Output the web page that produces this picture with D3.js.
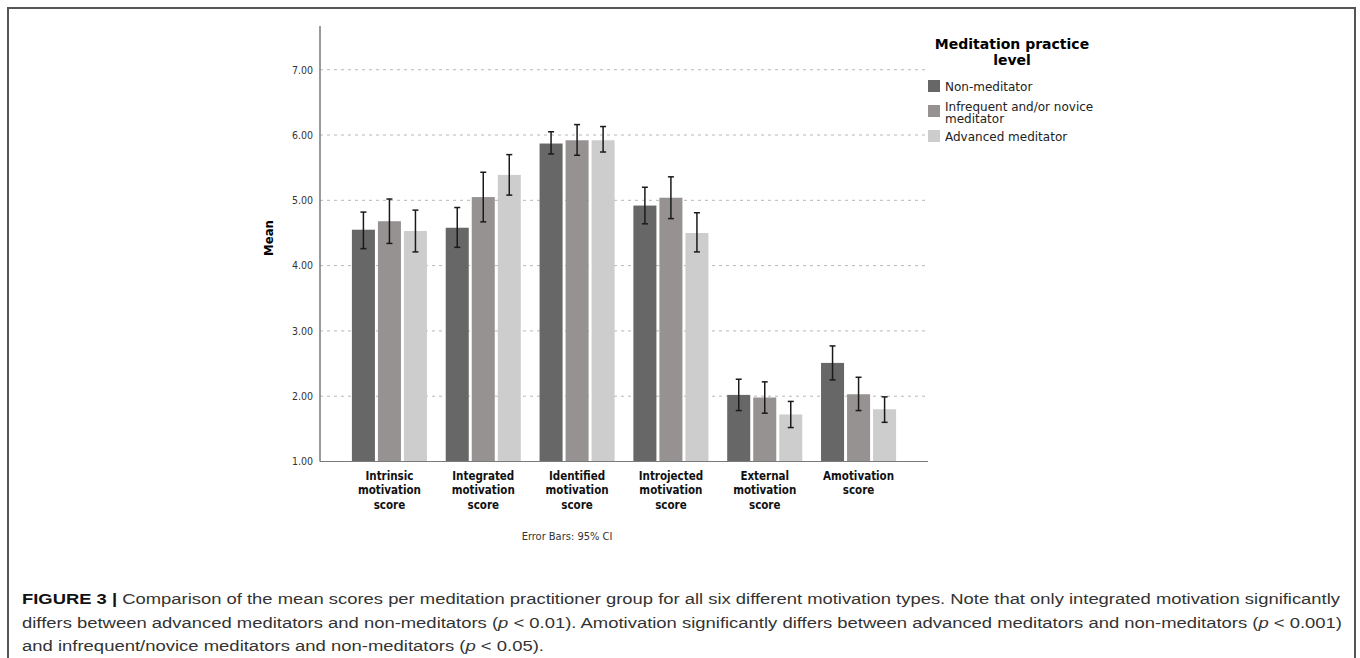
<!DOCTYPE html>
<html>
<head>
<meta charset="utf-8">
<script src="https://cdn.jsdelivr.net/npm/d3@7"></script>
<style>
  body { margin: 0; background: #fff; }
  svg { display: block; }
</style>
</head>
<body>
<div id="chart"></div>
<script>
var categories = [
    ["Intrinsic", "motivation", "score"],
    ["Integrated", "motivation", "score"],
    ["Identified", "motivation", "score"],
    ["Introjected", "motivation", "score"],
    ["External", "motivation", "score"],
    ["Amotivation", "score"]
];
var groups = ["Non-meditator", "Infrequent and/or novice meditator", "Advanced meditator"];
var groupColors = ["#676767", "#979292", "#cdcdcd"];

// mean, lower CI, upper CI per group
var nonMeditator = [4.55, 4.58, 5.87, 4.92, 2.02, 2.51];
var nonMeditatorLow = [4.26, 4.28, 5.71, 4.64, 1.78, 2.25];
var nonMeditatorHigh = [4.82, 4.89, 6.05, 5.20, 2.26, 2.77];

var infrequent = [4.68, 5.05, 5.92, 5.04, 1.98, 2.03];
var infrequentLow = [4.34, 4.67, 5.69, 4.72, 1.74, 1.78];
var infrequentHigh = [5.02, 5.43, 6.16, 5.36, 2.22, 2.29];

var advanced = [4.53, 5.39, 5.92, 4.50, 1.72, 1.80];
var advancedLow = [4.21, 5.08, 5.74, 4.21, 1.52, 1.60];
var advancedHigh = [4.85, 5.70, 6.13, 4.81, 1.92, 1.99];

var yTicks = [1, 2, 3, 4, 5, 6, 7];

var series = [
    {name: groups[0], mean: nonMeditator, lo: nonMeditatorLow, hi: nonMeditatorHigh},
    {name: groups[1], mean: infrequent, lo: infrequentLow, hi: infrequentHigh},
    {name: groups[2], mean: advanced, lo: advancedLow, hi: advancedHigh}
];

var width = 1360, height = 658;
var plotLeft = 320, plotRight = 928, plotTop = 26, plotBottom = 461.5;

var svg = d3.select("#chart").append("svg")
    .attr("width", width)
    .attr("height", height);

// frame
svg.append("rect")
    .attr("x", 8).attr("y", 8)
    .attr("width", 1347).attr("height", 700)
    .attr("fill", "none")
    .attr("stroke", "#555")
    .attr("stroke-width", 2);

var x = d3.scaleBand()
    .domain(d3.range(categories.length))
    .range([plotLeft, plotRight])
    .paddingInner(0.2)
    .paddingOuter(0.34);

var xInner = d3.scaleBand()
    .domain(d3.range(groups.length))
    .range([0, x.bandwidth()])
    .paddingInner(0.115);

var y = d3.scaleLinear()
    .domain([1, 7.67])
    .range([plotBottom, plotTop]);

var color = d3.scaleOrdinal().domain(d3.range(groups.length)).range(groupColors);

// grid
svg.append("g").selectAll("line")
    .data(yTicks.slice(1))
    .enter().append("line")
    .attr("x1", plotLeft).attr("x2", plotRight)
    .attr("y1", function(d) { return y(d); })
    .attr("y2", function(d) { return y(d); })
    .attr("stroke", "#b8b8b8")
    .attr("stroke-width", 1)
    .attr("stroke-dasharray", "3,4");

// y axis
var yAxis = svg.append("g")
    .attr("transform", "translate(" + plotLeft + ",0)")
    .call(d3.axisLeft(y).tickValues(yTicks).tickFormat(d3.format(".2f")).tickSize(0).tickPadding(7));
yAxis.select(".domain").remove();
yAxis.selectAll("text")
    .attr("font-family", "DejaVu Sans Condensed, DejaVu Sans")
    .attr("font-size", "10.5px")
    .attr("fill", "#333");

svg.append("text")
    .attr("transform", "translate(273," + 238 + ") rotate(-90)")
    .attr("text-anchor", "middle")
    .attr("font-family", "DejaVu Sans Condensed, DejaVu Sans")
    .attr("font-weight", "bold")
    .attr("font-size", "13px")
    .text("Mean");

// bars
var bars = [];
series.forEach(function(s, si) {
    s.mean.forEach(function(v, ci) {
        bars.push({c: ci, s: si, v: v, lo: s.lo[ci], hi: s.hi[ci]});
    });
});

svg.append("g").selectAll("rect")
    .data(bars)
    .enter().append("rect")
    .attr("x", function(d) { return x(d.c) + xInner(d.s); })
    .attr("y", function(d) { return y(d.v); })
    .attr("width", xInner.bandwidth())
    .attr("height", function(d) { return y(1) - y(d.v); })
    .attr("fill", function(d) { return color(d.s); });

// error bars
var eb = svg.append("g").selectAll("g")
    .data(bars)
    .enter().append("g")
    .attr("stroke", "#1a1a1a")
    .attr("stroke-width", 1.5);
eb.append("line")
    .attr("x1", function(d) { return x(d.c) + xInner(d.s) + xInner.bandwidth() / 2; })
    .attr("x2", function(d) { return x(d.c) + xInner(d.s) + xInner.bandwidth() / 2; })
    .attr("y1", function(d) { return y(d.lo); })
    .attr("y2", function(d) { return y(d.hi); });
eb.selectAll(".cap")
    .data(function(d) { return [d.lo, d.hi].map(function(v) { return {c: d.c, s: d.s, v: v}; }); })
    .enter().append("line")
    .attr("class", "cap")
    .attr("x1", function(d) { return x(d.c) + xInner(d.s) + xInner.bandwidth() / 2 - 3; })
    .attr("x2", function(d) { return x(d.c) + xInner(d.s) + xInner.bandwidth() / 2 + 3; })
    .attr("y1", function(d) { return y(d.v); })
    .attr("y2", function(d) { return y(d.v); });

// axis lines
svg.append("line")
    .attr("x1", plotLeft).attr("x2", plotLeft)
    .attr("y1", plotTop).attr("y2", plotBottom)
    .attr("stroke", "#7a7a7a").attr("stroke-width", 1.5);
svg.append("line")
    .attr("x1", plotLeft).attr("x2", plotRight)
    .attr("y1", plotBottom).attr("y2", plotBottom)
    .attr("stroke", "#7a7a7a").attr("stroke-width", 1.2);

// category labels
var catLabels = svg.append("g").selectAll("text")
    .data(categories)
    .enter().append("text")
    .attr("text-anchor", "middle")
    .attr("font-family", "DejaVu Sans Condensed, DejaVu Sans")
    .attr("font-weight", "bold")
    .attr("font-size", "11.5px")
    .attr("fill", "#111");
catLabels.selectAll("tspan")
    .data(function(d, i) { return d.map(function(t) { return {t: t, i: i}; }); })
    .enter().append("tspan")
    .attr("x", function(d) { return x(d.i) + x.bandwidth() / 2; })
    .attr("y", function(d, j) { return 480 + j * 14.3; })
    .text(function(d) { return d.t; });

svg.append("text")
    .attr("x", 567).attr("y", 540)
    .attr("text-anchor", "middle")
    .attr("font-family", "DejaVu Sans Condensed, DejaVu Sans")
    .attr("font-size", "11px")
    .attr("fill", "#333")
    .text("Error Bars: 95% CI");

// legend
svg.append("clipPath").attr("id", "legclip")
    .append("rect").attr("x", 900).attr("y", 20).attr("width", 193).attr("height", 150);

var legend = svg.append("g").attr("clip-path", "url(#legclip)");
legend.append("text")
    .attr("text-anchor", "middle")
    .attr("font-family", "DejaVu Sans")
    .attr("font-weight", "bold")
    .attr("font-size", "14px")
    .selectAll("tspan")
    .data(["Meditation practice", "level"])
    .enter().append("tspan")
    .attr("x", 1012)
    .attr("y", function(d, i) { return 49 + i * 16; })
    .text(function(d) { return d; });

var legendRows = [
    {lines: ["Non-meditator"], y: 80},
    {lines: ["Infrequent and/or novice", "meditator"], y: 105},
    {lines: ["Advanced meditator"], y: 130}
];
var items = legend.selectAll(".item")
    .data(legendRows)
    .enter().append("g")
    .attr("class", "item");
items.append("rect")
    .attr("x", 928)
    .attr("y", function(d) { return d.y; })
    .attr("width", 12).attr("height", 12)
    .attr("fill", function(d, i) { return color(i); });
items.append("text")
    .attr("font-family", "DejaVu Sans")
    .attr("font-size", "12px")
    .attr("fill", "#222")
    .selectAll("tspan")
    .data(function(d) {
        var off = d.lines.length > 1 ? 5.5 : 11;
        return d.lines.map(function(t, j) { return {t: t, yy: d.y + off + j * 12}; });
    })
    .enter().append("tspan")
    .attr("x", 945)
    .attr("y", function(d) { return d.yy; })
    .text(function(d) { return d.t; });

// caption
var caption = [
    [{t: "FIGURE 3 |", b: true}, {t: " Comparison of the mean scores per meditation practitioner group for all six different motivation types. Note that only integrated motivation significantly"}],
    [{t: "differs between advanced meditators and non-meditators ("}, {t: "p", i: true}, {t: " < 0.01). Amotivation significantly differs between advanced meditators and non-meditators ("}, {t: "p", i: true}, {t: " < 0.001)"}],
    [{t: "and infrequent/novice meditators and non-meditators ("}, {t: "p", i: true}, {t: " < 0.05)."}]
];
var captionWidths = [1318, 1320, 522];

svg.append("g").selectAll("text")
    .data(caption)
    .enter().append("text")
    .attr("x", 22)
    .attr("y", function(d, i) { return 604 + i * 23.5; })
    .attr("textLength", function(d, i) { return captionWidths[i]; })
    .attr("lengthAdjust", "spacingAndGlyphs")
    .attr("font-family", "Liberation Sans, Arial")
    .attr("font-size", "15.5px")
    .attr("fill", "#333")
    .selectAll("tspan")
    .data(function(d) { return d; })
    .enter().append("tspan")
    .attr("font-weight", function(d) { return d.b ? "bold" : null; })
    .attr("font-style", function(d) { return d.i ? "italic" : null; })
    .attr("fill", function(d) { return d.b ? "#111" : null; })
    .text(function(d) { return d.t; });
</script>
</body>
</html>
